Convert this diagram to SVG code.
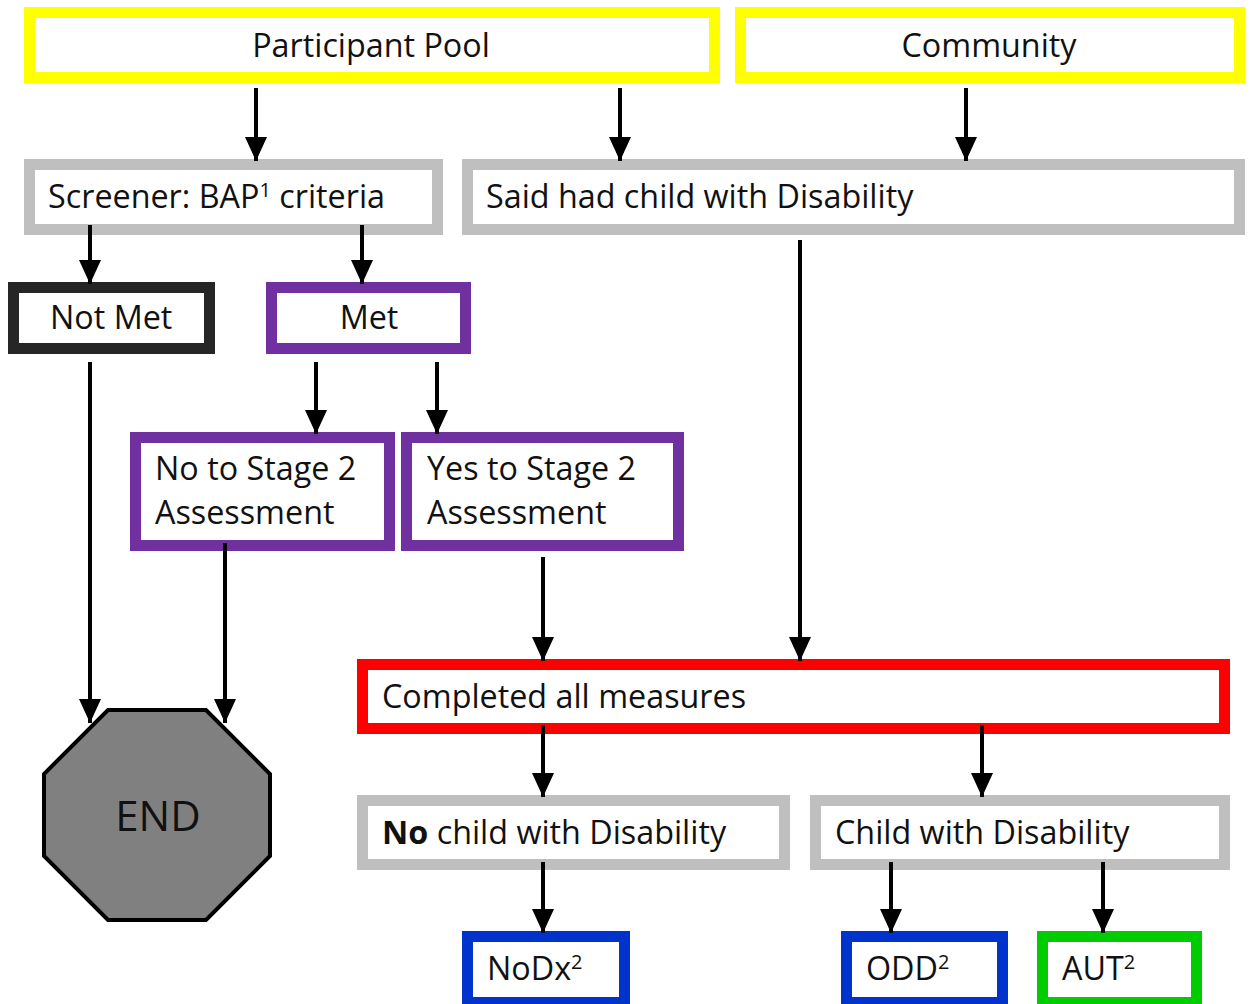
<svg xmlns="http://www.w3.org/2000/svg" width="1252" height="1004" viewBox="0 0 1252 1004">
<style>
.box{fill:#fff;stroke-width:11}
.y{stroke:#ffff00}.g{stroke:#bfbfbf}.p{stroke:#7030a0}.k{stroke:#262626}.r{stroke:#ff0000}.b{stroke:#0033cc}.gr{stroke:#00cc00}
text{font-family:"Open Sans","Liberation Sans",sans-serif;font-size:32.3px;fill:#111}
.c{text-anchor:middle}
.sup{font-size:20px}
.e{stroke:#000;stroke-width:4;fill:none;marker-end:url(#ah)}
</style>
<defs>
<marker id="ah" markerUnits="userSpaceOnUse" markerWidth="22" markerHeight="26" refX="24" refY="11" orient="auto">
<path d="M0,0 L24,11 L0,22 Z" fill="#000"/>
</marker>
</defs>
<rect width="1252" height="1004" fill="#fff"/>
<g id="participant-pool"><rect class="box y" x="29.5" y="12.5" width="685" height="65"/><text class="c" x="371" y="57">Participant Pool</text></g>
<g id="community"><rect class="box y" x="740.5" y="12.5" width="499" height="65"/><text class="c" x="989" y="57">Community</text></g>
<g id="screener"><rect class="box g" x="29.5" y="164.5" width="408" height="65"/><text x="48" y="208">Screener: BAP<tspan class="sup" dy="-11">1</tspan><tspan dy="11"> criteria</tspan></text></g>
<g id="said-had-child"><rect class="box g" x="467.5" y="164.5" width="772" height="65"/><text x="486" y="208">Said had child with Disability</text></g>
<g id="not-met"><rect class="box k" x="13.5" y="287.5" width="196" height="61"/><text x="50" y="329">Not Met</text></g>
<g id="met"><rect class="box p" x="271.5" y="287.5" width="194" height="61"/><text class="c" x="369" y="329">Met</text></g>
<g id="no-stage2"><rect class="box p" x="135.5" y="437.5" width="254" height="108"/><text x="155" y="480">No to Stage 2</text><text x="155" y="524">Assessment</text></g>
<g id="yes-stage2"><rect class="box p" x="406.5" y="437.5" width="272" height="108"/><text x="427" y="480">Yes to Stage 2</text><text x="427" y="524">Assessment</text></g>
<g id="end"><polygon points="108,710 206,710 270,774 270,856 206,920 108,920 44,856 44,774" fill="#808080" stroke="#000" stroke-width="4"/><text class="c" x="158" y="831" style="font-size:42px">END</text></g>
<g id="completed"><rect class="box r" x="362.5" y="664.5" width="862" height="64"/><text x="382" y="708">Completed all measures</text></g>
<g id="no-child"><rect class="box g" x="362.5" y="800.5" width="422" height="64"/><text x="382" y="844"><tspan font-weight="bold">No</tspan> child with Disability</text></g>
<g id="child"><rect class="box g" x="815.5" y="800.5" width="409" height="64"/><text x="835" y="844">Child with Disability</text></g>
<g id="nodx"><rect class="box b" x="467.5" y="936.5" width="157" height="66"/><text x="487" y="980">NoDx<tspan class="sup" dy="-11">2</tspan></text></g>
<g id="odd"><rect class="box b" x="846.5" y="936.5" width="156" height="66"/><text x="866" y="980">ODD<tspan class="sup" dy="-11">2</tspan></text></g>
<g id="aut"><rect class="box gr" x="1042.5" y="936.5" width="154" height="66"/><text x="1062" y="980">AUT<tspan class="sup" dy="-11">2</tspan></text></g>
<g id="connectors">
<line class="e" x1="256" y1="88" x2="256" y2="161"/>
<line class="e" x1="620" y1="88" x2="620" y2="161"/>
<line class="e" x1="966" y1="88" x2="966" y2="161"/>
<line class="e" x1="90" y1="225" x2="90" y2="284"/>
<line class="e" x1="362" y1="225" x2="362" y2="284"/>
<line class="e" x1="90" y1="362" x2="90" y2="723"/>
<line class="e" x1="316" y1="362" x2="316" y2="434"/>
<line class="e" x1="437" y1="362" x2="437" y2="434"/>
<line class="e" x1="225" y1="543" x2="225" y2="723"/>
<line class="e" x1="543" y1="557" x2="543" y2="661"/>
<line class="e" x1="800" y1="240" x2="800" y2="661"/>
<line class="e" x1="543" y1="725" x2="543" y2="797"/>
<line class="e" x1="982" y1="725" x2="982" y2="797"/>
<line class="e" x1="543" y1="862" x2="543" y2="933"/>
<line class="e" x1="891" y1="862" x2="891" y2="933"/>
<line class="e" x1="1103" y1="862" x2="1103" y2="933"/>
</g>
</svg>
